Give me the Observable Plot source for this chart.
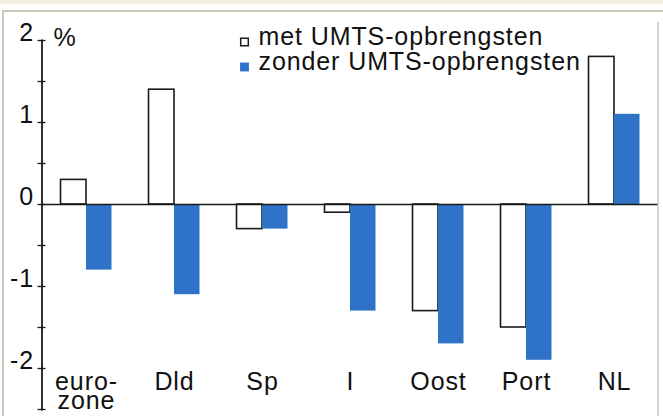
<!DOCTYPE html>
<html>
<head>
<meta charset="utf-8">
<script src="https://cdn.jsdelivr.net/npm/d3@7"></script>
<script src="https://cdn.jsdelivr.net/npm/@observablehq/plot@0.6"></script>
<style>
  html, body { margin: 0; padding: 0; background: #ffffff; }
  #wrap { position: relative; width: 663px; height: 416px; overflow: hidden; background: #ffffff; }
  .deco { position: absolute; }
  #chart { position: absolute; left: 0; top: 0; }
  #chart svg text { letter-spacing: 0.9px; }
</style>
</head>
<body>
<div id="wrap">
  <div class="deco" style="left:0;top:0;width:663px;height:4px;background:#f4f0e2;"></div>
  <div class="deco" style="left:2px;top:10px;width:661px;height:2px;background:#cbc7b8;"></div>
  <div class="deco" style="left:2px;top:10px;width:2px;height:406px;background:#cac8be;"></div>
  <div class="deco" style="left:657px;top:22px;width:2px;height:394px;background:#d6d6d6;"></div>
  <div id="chart"></div>
</div>
<script>
// Categories and series values (percent)
const categories = ["eurozone", "Dld", "Sp", "I", "Oost", "Port", "NL"];
const categoryLabels = ["euro-\nzone", "Dld", "Sp", "I", "Oost", "Port", "NL"];
const metUMTS = [0.3, 1.4, -0.3, -0.1, -1.3, -1.5, 1.8];
const zonderUMTS = [-0.8, -1.1, -0.3, -1.3, -1.7, -1.9, 1.1];
const seriesNames = ["met UMTS-opbrengsten", "zonder UMTS-opbrengsten"];
const yTickValues = [-2, -1, 0, 1, 2];
const yTickLabels = ["-2", "-1", "0", "1", "2"];
const yMarkValues = [-2.5, -2, -1.5, -1, -0.5, 0, 0.5, 1, 1.5, 2];
const unitLabel = "%";

const rows = categories.map((c, i) => ({cat: c, met: metUMTS[i], zonder: zonderUMTS[i]}));
const labelOf = new Map(categories.map((c, i) => [c, categoryLabels[i]]));
const yLabelOf = new Map(yTickValues.map((v, i) => [v, yTickLabels[i]]));

const BLUE = "#2f73c9";
const INK = "#1a1a1a";

const chart = Plot.plot({
  width: 663,
  height: 416,
  marginLeft: 41.5,
  marginRight: 5.5,
  marginTop: 40,
  marginBottom: 7,
  style: {
    background: "transparent",
    fontFamily: "'Liberation Sans', Arial, sans-serif",
    fontSize: "25px",
    color: "#111"
  },
  x: {domain: categories, padding: 0, label: null},
  y: {domain: [-2.5, 2], label: null},
  marks: [
    Plot.barY(rows, {x: "cat", y: "met", fill: "white", stroke: INK, strokeWidth: 1.6, insetLeft: 18.5, insetRight: 44}),
    Plot.barY(rows, {x: "cat", y: "zonder", fill: BLUE, insetLeft: 44, insetRight: 18.5}),
    Plot.ruleY([0], {stroke: INK, strokeWidth: 1.6}),
    Plot.frame({anchor: "left", stroke: INK, strokeWidth: 1.8}),
    Plot.tickY(yMarkValues, {y: d => d, insetRight: 608, dx: -4, stroke: INK, strokeWidth: 1.3}),
    Plot.axisY(yTickValues, {tickSize: 0, tickPadding: 8, dy: -8, fill: "#111", label: null, tickFormat: d => yLabelOf.get(d)}),
    Plot.axisX({tickSize: 0, tickPadding: 0, dy: -33, lineAnchor: "top", lineHeight: 0.76, label: null, tickFormat: d => labelOf.get(d), fill: "#111"}),
    Plot.text([unitLabel], {frameAnchor: "top-left", dx: 11.5, dy: 5, textAnchor: "start", lineAnchor: "bottom", fill: "#111"}),
    Plot.dot([seriesNames[0]], {frameAnchor: "top-left", dx: 202.5, dy: 1.5, symbol: "square", r: 4.3, fill: "white", stroke: INK, strokeWidth: 1.5}),
    Plot.dot([seriesNames[1]], {frameAnchor: "top-left", dx: 202.5, dy: 26.5, symbol: "square", r: 5, fill: BLUE}),
    Plot.text([seriesNames[0]], {frameAnchor: "top-left", dx: 216.5, dy: 4, textAnchor: "start", lineAnchor: "bottom", fill: "#111"}),
    Plot.text([seriesNames[1]], {frameAnchor: "top-left", dx: 216.5, dy: 29, textAnchor: "start", lineAnchor: "bottom", fill: "#111"})
  ]
});
document.getElementById("chart").appendChild(chart);
</script>
</body>
</html>
